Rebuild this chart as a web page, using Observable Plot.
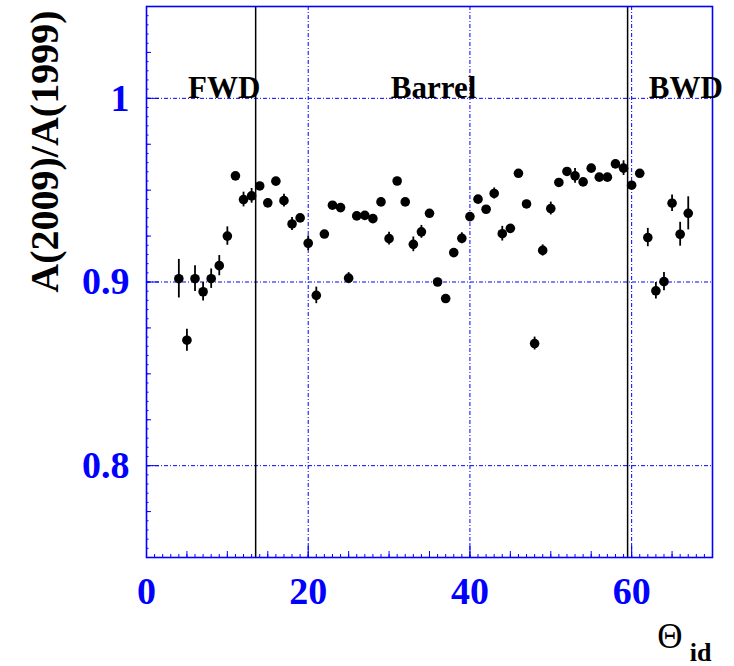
<!DOCTYPE html>
<html><head><meta charset="utf-8">
<script src="https://cdn.jsdelivr.net/npm/d3@7"></script>
<script src="https://cdn.jsdelivr.net/npm/@observablehq/plot@0.6"></script>
<style>html,body{margin:0;padding:0;background:#fff;overflow:hidden}</style>
</head><body><div id="chart"></div>
<script>
// ---- data ----
const thetaId = [4,5,6,7,8,9,10,11,12,13,14,15,16,17,18,19,20,21,22,23,24,25,26,27,28,29,30,31,32,33,34,35,
  36,37,38,39,40,41,42,43,44,45,46,47,48,49,50,51,52,53,54,55,56,57,58,59,60,61,62,63,64,65,66,67];
const ratio = [0.9018,0.8683,0.9018,0.8947,0.9018,0.9089,0.925,0.9578,0.9449,0.9469,0.9523,0.9431,0.9549,0.9443,
  0.9316,0.9349,0.9211,0.8927,0.9261,0.9418,0.9405,0.9021,0.936,0.9363,0.9345,0.9436,0.9236,0.955,0.9436,0.9205,
  0.9273,0.9374,0.900,0.891,0.916,0.9238,0.9356,0.9451,0.9396,0.9482,0.9263,0.9292,0.9592,0.9425,0.8665,0.9172,
  0.940,0.9542,0.9602,0.9578,0.9545,0.962,0.9571,0.9571,0.9643,0.962,0.9527,0.9592,0.9242,0.8952,0.9002,0.9429,
  0.926,0.9374];
const ratioErr = [0.0105,0.006,0.007,0.005,0.0053,0.0055,0.005,0.002,0.004,0.004,0.002,0.002,0.002,0.0035,
  0.0035,0.002,0.004,0.0045,0.002,0.002,0.002,0.003,0.002,0.002,0.002,0.002,0.0035,0.002,0.002,0.004,
  0.0035,0.002,0.002,0.002,0.002,0.003,0.002,0.002,0.002,0.003,0.004,0.002,0.002,0.002,0.0035,0.003,
  0.0035,0.002,0.002,0.004,0.002,0.002,0.002,0.002,0.002,0.004,0.002,0.002,0.005,0.0045,0.005,0.0045,
  0.0065,0.009];
const regionNames = ["FWD", "Barrel", "BWD"];
const regionCenters = [9.6, 35.5, 66.7];
const regionBoundaries = [13.5, 59.5];
const xTickLabels = [0, 20, 40, 60];
const yTickLabels = [0.8, 0.9, 1];
const yTitle = "A(2009)/A(1999)";
const xTitle = "Θ";
const xTitleSub = "id";

// tick positions (axis decoration)
const xMinorTicks = d3.range(0, 71, 1);
const xMidTicks = d3.range(0, 71, 5);
const yMinorTicks = d3.range(0, 61).map(i => +(0.75 + i * 0.005).toFixed(3));
const yMidTicks = d3.range(0, 13).map(i => +(0.75 + i * 0.025).toFixed(3));

const points = thetaId.map((t, i) => ({t, v: ratio[i], e: ratioErr[i]}));
const regions = regionNames.map((n, i) => ({name: n, x: regionCenters[i]}));

const W = 734, H = 666, ML = 146, MR = 22, MT = 6, MB = 109;
const FW = W - ML - MR, FH = H - MT - MB;
const BLUE = "#0000ff";
const SERIF = "Liberation Serif, Times New Roman, serif";

const chart = Plot.plot({
  width: W, height: H,
  marginLeft: ML, marginRight: MR, marginTop: MT, marginBottom: MB,
  x: {domain: [0, 70]},
  y: {domain: [0.75, 1.05]},
  marks: [
    Plot.gridY(yTickLabels, {stroke: BLUE, strokeOpacity: 1, strokeWidth: 1, strokeDasharray: "4,2,1,2"}),
    Plot.gridX(xTickLabels.filter(d => d > 0), {stroke: BLUE, strokeOpacity: 1, strokeWidth: 1, strokeDasharray: "4,2,1,2"}),
    Plot.ruleX(regionBoundaries, {stroke: "#000", strokeWidth: 1.5}),
    Plot.ruleX(xMinorTicks, {stroke: BLUE, insetTop: FH - 3}),
    Plot.ruleX(xMidTicks, {stroke: BLUE, insetTop: FH - 6}),
    Plot.ruleX(xTickLabels, {stroke: BLUE, insetTop: FH - 13}),
    Plot.ruleY(yMinorTicks, {stroke: BLUE, insetRight: FW - 2.5}),
    Plot.ruleY(yMidTicks, {stroke: BLUE, insetRight: FW - 5}),
    Plot.ruleY(yTickLabels, {stroke: BLUE, insetRight: FW - 13}),
    Plot.frame({stroke: BLUE, strokeWidth: 1.6}),
    Plot.axisX({ticks: xTickLabels, tickSize: 0, tickPadding: 20, label: null, color: BLUE,
      fontSize: 38, fontWeight: "bold", fontFamily: SERIF, tickFormat: d => String(d)}),
    Plot.axisY({ticks: yTickLabels, tickSize: 0, tickPadding: 17, label: null, color: BLUE,
      fontSize: 38, fontWeight: "bold", fontFamily: SERIF, tickFormat: d => String(d)}),
    Plot.text([yTitle], {text: d => d, frameAnchor: "top-left", rotate: -90, textAnchor: "end",
      lineAnchor: "middle", dx: -101.5, dy: 4, fontSize: 40, fontWeight: "bold", fontFamily: SERIF, fill: "#000"}),
    Plot.text([xTitle], {text: d => d, frameAnchor: "bottom-right", textAnchor: "end", lineAnchor: "bottom",
      dx: -30, dy: 90, fontSize: 35, fontFamily: SERIF, fill: "#000"}),
    Plot.text([xTitleSub], {text: d => d, frameAnchor: "bottom-right", textAnchor: "end", lineAnchor: "bottom",
      dx: -1, dy: 103, fontSize: 26, fontWeight: "bold", fontFamily: SERIF, fill: "#000"}),
    Plot.text(regions, {x: "x", y: () => 1, text: "name", lineAnchor: "bottom", textAnchor: "middle",
      fontSize: 31, fontWeight: "bold", fontFamily: SERIF, fill: "#000"}),
    Plot.ruleX(points, {x: "t", y1: d => d.v - d.e, y2: d => d.v + d.e, stroke: "#000", strokeWidth: 1.8}),
    Plot.dot(points, {x: "t", y: "v", r: 4.8, fill: "#000", stroke: "none"})
  ]
});
document.getElementById("chart").appendChild(chart);
</script>
</body></html>
